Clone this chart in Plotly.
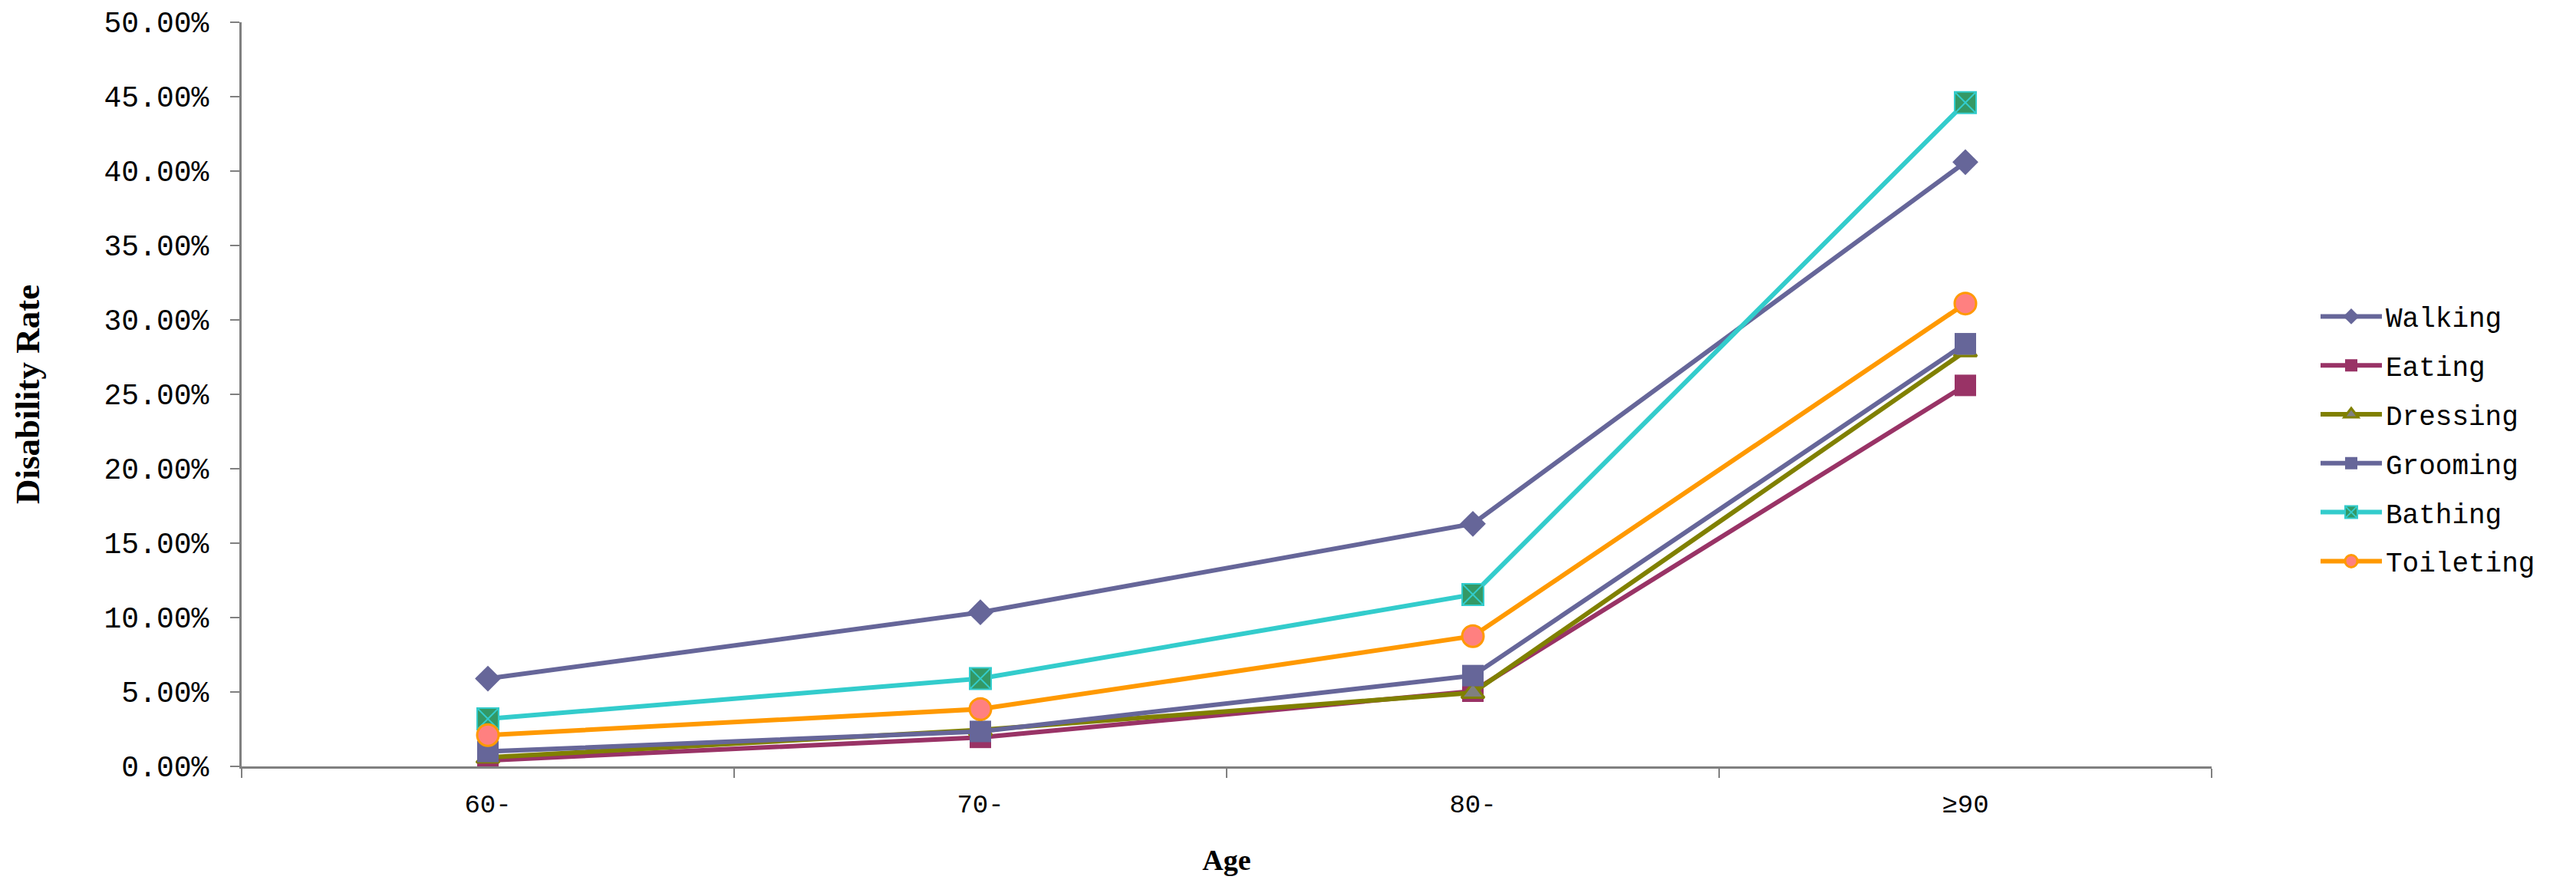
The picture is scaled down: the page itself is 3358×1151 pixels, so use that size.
import plotly.graph_objects as go

categories = ["60-", "70-", "80-", "≥90"]
walking = [5.9, 10.35, 16.3, 40.6]
eating = [0.4, 1.95, 5.05, 25.6]
dressing = [0.6, 2.45, 4.95, 27.9]
grooming = [1.0, 2.35, 6.1, 28.4]
bathing = [3.2, 5.9, 11.55, 44.6]
toileting = [2.1, 3.85, 8.75, 31.1]

series_names = ["Walking", "Eating", "Dressing", "Grooming", "Bathing", "Toileting"]
series_values = [walking, eating, dressing, grooming, bathing, toileting]

styles = {
    "Walking": dict(line="#666699", symbol="diamond", fill="#666699", edge="#666699", size=26, ew=0),
    "Eating": dict(line="#993366", symbol="square", fill="#993366", edge="#993366", size=28, ew=0),
    "Dressing": dict(line="#808000", symbol="triangle-up", fill="#808080", edge="#808000", size=26, ew=3),
    "Grooming": dict(line="#666699", symbol="square", fill="#666699", edge="#666699", size=28, ew=0),
    "Bathing": dict(line="#33CCCC", symbol="square-x", fill="#339966", edge="#33CCCC", size=28, ew=2),
    "Toileting": dict(line="#FF9900", symbol="circle", fill="#FF8080", edge="#FF9900", size=28, ew=3),
}

fig = go.Figure()
for name, vals in zip(series_names, series_values):
    s = styles[name]
    fig.add_trace(go.Scatter(
        x=categories,
        y=[v / 100 for v in vals],
        mode="lines+markers",
        name=name,
        legendgroup=name,
        line=dict(color=s["line"], width=6),
        marker=dict(symbol=s["symbol"], color=s["fill"], size=s["size"],
                    line=dict(color=s["edge"], width=s["ew"])),
    ))

W, H = 3358, 1151
L, R, T, B = 315, 475, 29, 152

fig.update_layout(
    width=W, height=H,
    margin=dict(l=L, r=R, t=T, b=B, autoexpand=False),
    paper_bgcolor="white",
    plot_bgcolor="white",
    showlegend=True,
    legend=dict(
        x=(3020 - L) / (W - L - R), xanchor="left",
        y=(999 - 572) / (H - T - B), yanchor="middle",
        font=dict(family="Liberation Mono", size=36, color="black"),
        tracegroupgap=14,
        itemwidth=80,
        bgcolor="rgba(0,0,0,0)",
    ),
    xaxis=dict(
        type="category",
        range=[-0.5, 3.5],
        showline=True, linecolor="#808080", linewidth=3,
        ticks="outside", tickson="boundaries", ticklen=12, tickwidth=2, tickcolor="#808080",
        showgrid=False, zeroline=False,
        tickfont=dict(family="Liberation Mono", size=34, color="black"),
        ticklabelstandoff=16,
        title=dict(text="Age", standoff=40,
                   font=dict(family="Liberation Serif", size=38, color="black", weight="bold")),
    ),
    yaxis=dict(
        range=[0, 0.5], dtick=0.05, tick0=0,
        tickformat=".2%",
        showline=True, linecolor="#808080", linewidth=3,
        ticks="outside", ticklen=12, tickwidth=2, tickcolor="#808080",
        showgrid=False, zeroline=False,
        tickfont=dict(family="Liberation Mono", size=38, color="black"),
        ticklabelstandoff=20,
        title=dict(text="Disability Rate", standoff=70,
                   font=dict(family="Liberation Serif", size=45, color="black", weight="bold")),
    ),
)

fig.write_html("out.html", config={"displayModeBar": False},
               post_script="document.body.style.margin='0';")
